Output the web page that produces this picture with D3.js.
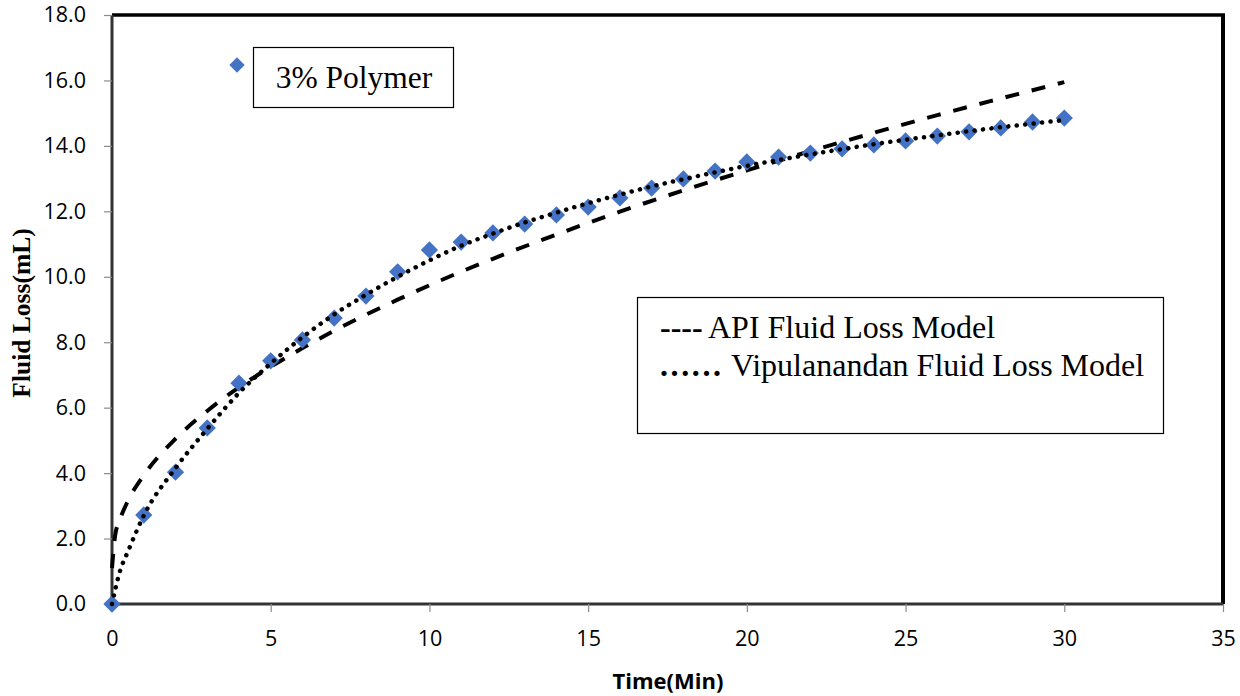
<!DOCTYPE html>
<html>
<head>
<meta charset="utf-8">
<script src="https://cdn.jsdelivr.net/npm/d3@7"></script>
<style>
  html, body { margin: 0; padding: 0; background: #fff; }
  svg { display: block; }
</style>
</head>
<body>
<div id="chart"></div>
<script>
// measured fluid loss, 3% polymer
const timeMin = [0, 1, 2, 3, 4, 5, 6, 7, 8, 9, 10, 11, 12, 13, 14, 15, 16, 17, 18, 19, 20, 21, 22, 23, 24, 25, 26, 27, 28, 29, 30];
const fluidLoss = [0, 2.72, 4.03, 5.38, 6.75, 7.43, 8.07, 8.74, 9.41, 10.15, 10.82, 11.06, 11.34, 11.61, 11.89, 12.13, 12.41, 12.71, 12.99, 13.23, 13.51, 13.66, 13.78, 13.91, 14.03, 14.15, 14.30, 14.43, 14.55, 14.73, 14.85];

// model curves
const apiTime = [0, 0.1, 0.25, 0.5, 1, 2, 3, 4, 5, 6, 7, 8, 9, 10, 12, 14, 16, 18, 20, 22, 24, 26, 28, 30];
const apiLoss = [1.1, 2.1, 2.58, 3.15, 3.93, 5.05, 5.9, 6.62, 7.25, 7.82, 8.35, 8.84, 9.3, 9.74, 10.55, 11.29, 11.99, 12.64, 13.25, 13.84, 14.4, 14.94, 15.45, 15.95];

const vipTime = [0, 0.25, 0.5, 1, 2, 3, 4, 5, 6, 7, 8, 9, 10, 11, 12, 13, 14, 15, 16, 17, 18, 19, 20, 21, 22, 23, 24, 25, 26, 27, 28, 29, 30];
const vipLoss = [0, 1.0, 1.6, 2.7, 4.15, 5.35, 6.45, 7.35, 8.15, 8.85, 9.45, 10.0, 10.5, 10.95, 11.32, 11.66, 11.96, 12.25, 12.51, 12.76, 12.98, 13.19, 13.39, 13.57, 13.74, 13.9, 14.05, 14.19, 14.32, 14.45, 14.57, 14.68, 14.79];

const xTicks = [0, 5, 10, 15, 20, 25, 30, 35];
const yTicks = [0, 2, 4, 6, 8, 10, 12, 14, 16, 18];

(() => {
  const W = 1240, H = 696;
  const plot = { left: 112, right: 1223, top: 15, bottom: 604 };
  const serif = "'Liberation Serif', 'Times New Roman', serif";

  const svg = d3.select("#chart").append("svg")
    .attr("width", W).attr("height", H);

  const x = d3.scaleLinear().domain([0, 35]).range([plot.left, plot.right]);
  const y = d3.scaleLinear().domain([0, 18]).range([plot.bottom, plot.top]);

  // frame: heavy top and right edges
  svg.append("line").attr("x1", plot.left).attr("x2", plot.right + 2).attr("y1", plot.top).attr("y2", plot.top)
    .attr("stroke", "#000").attr("stroke-width", 3.5);
  svg.append("line").attr("x1", plot.right).attr("x2", plot.right).attr("y1", plot.top).attr("y2", plot.bottom)
    .attr("stroke", "#000").attr("stroke-width", 4);

  // axes
  const xAxis = svg.append("g")
    .attr("transform", `translate(0,${plot.bottom})`)
    .call(d3.axisBottom(x).tickValues(xTicks).tickSize(8).tickPadding(19).tickFormat(d3.format("d")));
  const yAxis = svg.append("g")
    .attr("transform", `translate(${plot.left},0)`)
    .call(d3.axisLeft(y).tickValues(yTicks).tickSize(8).tickPadding(18).tickFormat(d3.format(".1f")));

  [xAxis, yAxis].forEach(a => {
    a.select(".domain").attr("stroke", "#333").attr("stroke-width", 3);
    a.selectAll(".tick line").attr("stroke", "#8c8c8c").attr("stroke-width", 1.2);
    a.selectAll(".tick text")
      .attr("fill", "#000")
      .style("font-family", "'Open Sans', sans-serif")
      .style("font-size", "21.5px");
  });
  xAxis.select(".domain").attr("d", `M${plot.left},0H${plot.right}`);
  yAxis.select(".domain").attr("d", `M0,${plot.bottom}V${plot.top}`);

  // model lines
  const line = d3.line().curve(d3.curveMonotoneX);
  const apiPath = line(apiTime.map((t, i) => [x(t), y(apiLoss[i])]));
  const vipPath = line(vipTime.map((t, i) => [x(t), y(vipLoss[i])]));

  svg.append("path")
    .attr("d", apiPath)
    .attr("fill", "none")
    .attr("stroke", "#000")
    .attr("stroke-width", 4)
    .attr("stroke-dasharray", "14 13");

  // measured points
  const diamond = d3.symbol().type(d3.symbolDiamond2).size(190);
  svg.append("g").selectAll("path")
    .data(timeMin)
    .join("path")
    .attr("d", diamond)
    .attr("transform", (t, i) => `translate(${x(t)},${y(fluidLoss[i])})`)
    .attr("fill", "#4472c4");

  // dotted line sits over the markers like the original
  svg.append("path")
    .attr("d", vipPath)
    .attr("fill", "none")
    .attr("stroke", "#000")
    .attr("stroke-width", 4.5)
    .attr("stroke-linecap", "round")
    .attr("stroke-dasharray", "0.1 8.4");

  // axis titles
  svg.append("text")
    .attr("x", 668).attr("y", 689)
    .attr("text-anchor", "middle")
    .style("font-family", "'Open Sans', sans-serif")
    .style("font-weight", "bold")
    .style("font-size", "22px")
    .text("Time(Min)");

  svg.append("text")
    .attr("transform", "translate(30,313) rotate(-90)")
    .attr("text-anchor", "middle")
    .style("font-family", serif)
    .style("font-weight", "bold")
    .style("font-size", "25.5px")
    .text("Fluid Loss(mL)");

  // series label box
  svg.append("path")
    .attr("d", d3.symbol().type(d3.symbolDiamond2).size(150))
    .attr("transform", "translate(237,65)")
    .attr("fill", "#4472c4");
  svg.append("rect")
    .attr("x", 253.5).attr("y", 47.5).attr("width", 200).attr("height", 60)
    .attr("fill", "#fff").attr("stroke", "#000").attr("stroke-width", 1.2);
  svg.append("text")
    .attr("x", 354).attr("y", 88)
    .attr("text-anchor", "middle")
    .style("font-family", serif)
    .style("font-size", "31.5px")
    .text("3% Polymer");

  // model legend box
  svg.append("rect")
    .attr("x", 637.5).attr("y", 297.5).attr("width", 526).attr("height", 136)
    .attr("fill", "#fff").attr("stroke", "#000").attr("stroke-width", 1.2);

  const legendRows = [
    { mark: "----", label: "API Fluid Loss Model", y: 338, labelX: 708, spacing: 0 },
    { mark: "......", label: "Vipulanandan Fluid Loss Model", y: 376, labelX: 731, spacing: 2.6 }
  ];
  legendRows.forEach(r => {
    svg.append("text").attr("x", 660).attr("y", r.y)
      .style("font-family", serif).style("font-size", "32px").style("font-weight", "bold")
      .style("letter-spacing", `${r.spacing}px`)
      .text(r.mark);
    svg.append("text").attr("x", r.labelX).attr("y", r.y)
      .style("font-family", serif).style("font-size", "32px")
      .text(r.label);
  });
})();
</script>
</body>
</html>
